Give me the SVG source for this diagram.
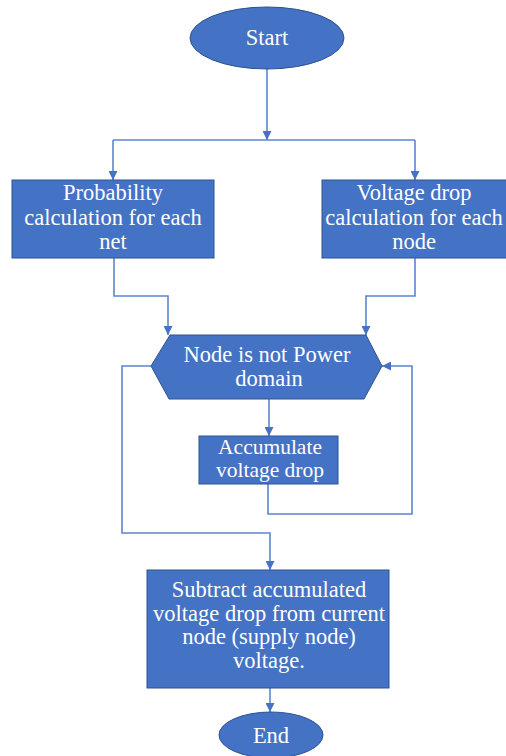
<svg xmlns="http://www.w3.org/2000/svg" width="506" height="756" viewBox="0 0 506 756">
<style>
.n{fill:#4472C4;stroke:#2F528F;stroke-width:1}
text{font-family:'Liberation Serif','Times New Roman',serif;font-size:22.5px;fill:#fff;text-anchor:middle}
.c{fill:none;stroke:#5B86D0;stroke-width:1.6}
</style>
<defs>
<marker id="a" viewBox="0 0 10 10" refX="10" refY="5" markerWidth="9" markerHeight="9" markerUnits="userSpaceOnUse" orient="auto">
<path d="M0,0 L10,5 L0,10 z" fill="#4472C4"/>
</marker>
</defs>
<g id="connectors">
<path class="c" d="M267,69 V140" marker-end="url(#a)"/>
<path class="c" d="M113,140 H415"/>
<path class="c" d="M113,140 V180" marker-end="url(#a)"/>
<path class="c" d="M415,140 V180" marker-end="url(#a)"/>
<path class="c" d="M114,258 V296 H168 V335" marker-end="url(#a)"/>
<path class="c" d="M415,258 V296 H366 V335" marker-end="url(#a)"/>
<path class="c" d="M269,399 V436" marker-end="url(#a)"/>
<path class="c" d="M268,484 V514 H412 V366 H382" marker-end="url(#a)"/>
<path class="c" d="M151,366 H122 V533 H270 V570" marker-end="url(#a)"/>
<path class="c" d="M270,688 V712" marker-end="url(#a)"/>
</g>
<g id="start">
<ellipse class="n" cx="267" cy="38" rx="77" ry="31"/>
<text x="267" y="45">Start</text>
</g>
<g id="prob">
<rect class="n" x="12" y="180" width="202" height="78"/>
<text x="113" y="200">Probability</text>
<text x="113" y="225">calculation for each</text>
<text x="113" y="249">net</text>
</g>
<g id="vdrop">
<rect class="n" x="322" y="180" width="190" height="78"/>
<text x="414" y="200">Voltage drop</text>
<text x="414" y="225">calculation for each</text>
<text x="414" y="249">node</text>
</g>
<g id="decision">
<polygon class="n" points="151,366 170,335 366,335 382,366 364,399 169,399"/>
<text x="267" y="362">Node is not Power</text>
<text x="269" y="386">domain</text>
</g>
<g id="accum">
<rect class="n" x="199" y="436" width="139" height="48"/>
<text x="270" y="454" style="font-size:21.5px">Accumulate</text>
<text x="270" y="477" style="font-size:21.5px">voltage drop</text>
</g>
<g id="subtract">
<rect class="n" x="147" y="570" width="242" height="118"/>
<text x="269" y="597">Subtract accumulated</text>
<text x="269" y="621">voltage drop from current</text>
<text x="269" y="644">node (supply node)</text>
<text x="269" y="668">voltage.</text>
</g>
<g id="end">
<ellipse class="n" cx="271" cy="735" rx="52" ry="23"/>
<text x="271" y="743">End</text>
</g>
</svg>
